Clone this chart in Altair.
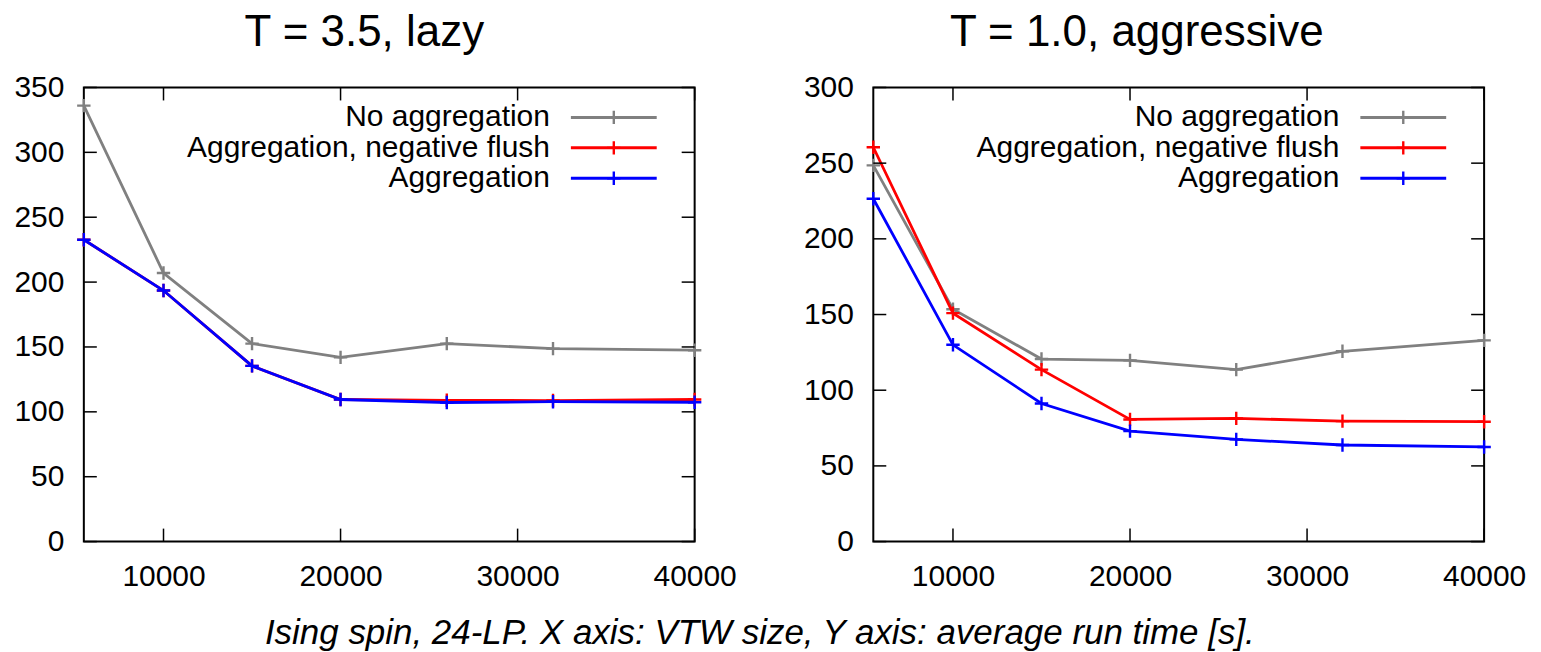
import altair as alt
import pandas as pd

# ---------------- data ----------------
x_vals = [5500, 10000, 15000, 20000, 26000, 32000, 40000]
series_names = ["No aggregation", "Aggregation, negative flush", "Aggregation"]
series_colors = ["#808080", "#ff0000", "#0000ff"]

lazy_none = [336, 207, 152.6, 142, 152.6, 148.7, 147.5]
lazy_neg = [232.6, 193.5, 135.4, 109.5, 108.9, 108.7, 109.5]
lazy_agg = [232.6, 193.5, 135.4, 109.5, 107.2, 107.8, 107.4]

aggr_none = [248.5, 153.5, 120.6, 119.7, 113.6, 125.7, 132.9]
aggr_neg = [260.5, 150.9, 113.6, 80.7, 81.4, 79.6, 79.2]
aggr_agg = [226.5, 130.0, 91.2, 73.0, 67.5, 63.8, 62.5]

panel_titles = ["T = 3.5, lazy", "T = 1.0, aggressive"]
y_ticks_lazy = [0, 50, 100, 150, 200, 250, 300, 350]
y_ticks_aggr = [0, 50, 100, 150, 200, 250, 300]
x_ticks = [10000, 20000, 30000, 40000]
caption = "Ising spin, 24-LP. X axis: VTW size, Y axis: average run time [s]."

# ---------------- style ----------------
W, H = 612, 455
FONT = "Liberation Sans"
PLUS = "M-1,0L1,0M0,-1L0,1"
TICK = 13
color_scale = alt.Scale(domain=series_names, range=series_colors)


def panel(title, values, ymax, yticks, title_dx):
    df = pd.DataFrame({
        "x": x_vals * len(series_names),
        "y": [v for vals in values for v in vals],
        "series": [n for n in series_names for _ in x_vals],
    })
    xs = alt.Scale(domain=[5500, 40000], nice=False, zero=False)
    ys = alt.Scale(domain=[0, ymax], nice=False, zero=False)
    x_axis = alt.Axis(values=x_ticks, format="d", ticks=False, tickSize=0, domain=False,
                      grid=False, labelPadding=20, labelFontSize=30, labelFont=FONT,
                      labelColor="black", title=None, labelFlush=False, labelOverlap=False)
    y_axis = alt.Axis(values=yticks, format="d", ticks=False, tickSize=0, domain=False,
                      grid=False, labelPadding=20, labelFontSize=30, labelFont=FONT,
                      labelColor="black", title=None, labelFlush=False, labelOverlap=False)
    X = alt.X("x:Q", scale=xs, axis=x_axis)
    Y = alt.Y("y:Q", scale=ys, axis=y_axis)
    C = alt.Color("series:N", scale=color_scale, legend=None)

    layers = []
    base = alt.Chart(df)
    for name in series_names:
        b = base.transform_filter(alt.datum.series == name)
        layers.append(b.mark_line(strokeWidth=2.8).encode(x=X, y=Y, color=C))
        layers.append(b.mark_point(shape=PLUS, size=180, filled=False, strokeWidth=2.4,
                                   opacity=1).encode(x=X, y=Y, color=C))

    ytdf = pd.DataFrame({"y": yticks})
    xtdf = pd.DataFrame({"x": x_ticks})
    rule = dict(color="black", strokeWidth=1.5)
    layers.append(alt.Chart(ytdf).mark_rule(**rule).encode(
        y=Y, x=alt.value(0), x2=alt.value(TICK)))
    layers.append(alt.Chart(ytdf).mark_rule(**rule).encode(
        y=Y, x=alt.value(W - TICK), x2=alt.value(W)))
    layers.append(alt.Chart(xtdf).mark_rule(**rule).encode(
        x=X, y=alt.value(H), y2=alt.value(H - TICK)))
    layers.append(alt.Chart(xtdf).mark_rule(**rule).encode(
        x=X, y=alt.value(0), y2=alt.value(TICK)))

    inner = alt.layer(*layers)

    # legend (gnuplot style: label, then line sample with marker)
    ldf = pd.DataFrame({"series": series_names})
    LY = alt.Y("series:N",
               scale=alt.Scale(type="point", domain=series_names, range=[30, 91], padding=0),
               axis=None)
    leg_text = alt.Chart(ldf).mark_text(align="right", baseline="middle", fontSize=30,
                                        font=FONT, color="black").encode(
        text="series:N", y=LY, x=alt.value(W - 145))
    leg_line = alt.Chart(ldf).mark_rule(strokeWidth=3).encode(
        y=LY, x=alt.value(W - 124), x2=alt.value(W - 38), color=C)
    leg_pt = alt.Chart(ldf).mark_point(shape=PLUS, size=180, filled=False, strokeWidth=2.4,
                                       opacity=1).encode(y=LY, x=alt.value(W - 81), color=C)
    legend = alt.layer(leg_text, leg_line, leg_pt)

    return alt.layer(inner, legend).resolve_scale(y="independent").properties(
        width=W, height=H,
        title=alt.TitleParams(title, fontSize=44, font=FONT, fontWeight="normal",
                              color="black", anchor="middle", frame="group",
                              dx=title_dx, offset=18),
    )


left = panel(panel_titles[0], [lazy_none, lazy_neg, lazy_agg], 350, y_ticks_lazy, -25)
right = panel(panel_titles[1], [aggr_none, aggr_neg, aggr_agg], 300, y_ticks_aggr, -42)

chart = alt.hconcat(left, right, spacing=179, bounds="flush").properties(
    title=alt.TitleParams(caption, orient="bottom", anchor="middle", frame="bounds", dx=-10,
                          offset=24, fontSize=35, font=FONT, fontStyle="italic",
                          fontWeight="normal", color="black"),
    padding={"left": 12, "top": 9, "right": 14, "bottom": 5},
    background="white",
).configure_view(stroke="black", strokeWidth=2)

chart.save("out.html", embed_options={"renderer": "svg", "actions": False})
